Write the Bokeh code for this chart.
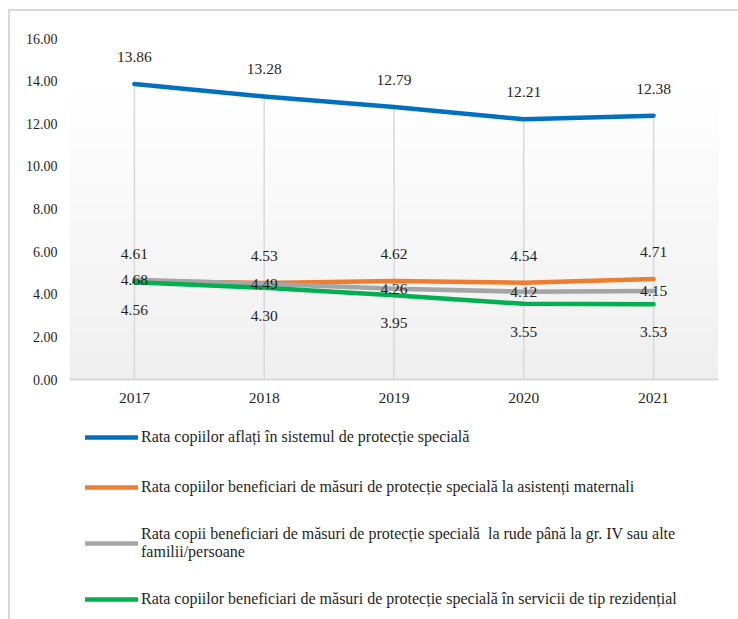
import numpy as np
from bokeh.plotting import figure
from bokeh.models import ColumnDataSource, FixedTicker, Legend, LegendItem, Range1d
from bokeh.core.properties import value
from bokeh.embed import file_html
from bokeh.resources import INLINE

years = ["2017", "2018", "2019", "2020", "2021"]
blue_vals = [13.86, 13.28, 12.79, 12.21, 12.38]
orange_vals = [4.61, 4.53, 4.62, 4.54, 4.71]
gray_vals = [4.68, 4.49, 4.26, 4.12, 4.15]
green_vals = [4.56, 4.30, 3.95, 3.55, 3.53]
series_names = [
    "Rata copiilor aflați în sistemul de protecție specială",
    "Rata copiilor beneficiari de măsuri de protecție specială la asistenți maternali",
    "Rata copii beneficiari de măsuri de protecție specială  la rude până la gr. IV sau alte\nfamilii/persoane",
    "Rata copiilor beneficiari de măsuri de protecție specială în servicii de tip rezidențial",
]
y_ticks = [0, 2, 4, 6, 8, 10, 12, 14, 16]

FONT = "Liberation Serif"
idx = list(range(len(years)))

Y_TOP = 16
PLOT_PX = 341          # pixels between 0 and 16
FRAME_H = 581          # frame extends below the axis to hold the legend
y_start = -(FRAME_H - PLOT_PX) / PLOT_PX * Y_TOP

p = figure(frame_width=649, frame_height=FRAME_H, output_backend="svg", toolbar_location=None,
           x_range=Range1d(-0.5, len(years) - 0.5), y_range=Range1d(y_start, Y_TOP),
           min_border_left=59, min_border_right=20, min_border_top=27, min_border_bottom=0)
p.styles = {"border-top": "2px solid #d9d9d9", "border-left": "2px solid #d9d9d9",
            "margin-left": "8px", "margin-top": "9px"}
p.outline_line_color = None
p.background_fill_color = "white"
p.border_fill_color = "white"
p.xgrid.visible = False
p.ygrid.visible = False

# gradient plot-area background
n = 100
grad = np.zeros((n, 1), dtype=np.uint32)
view = grad.view(dtype=np.uint8).reshape((n, 1, 4))
for i in range(n):
    t = i / (n - 1)  # 0 bottom, 1 top
    c = int(round(239 + (255 - 239) * min(1.0, t * 1.15)))
    view[i, 0] = [c, c, c, 255]
p.image_rgba(image=[grad], x=-0.5, y=0, dw=len(years), dh=Y_TOP, level="image")

# drop lines
p.segment(x0=idx, y0=[0] * len(idx), x1=idx,
          y1=[max(a, b, c, d) for a, b, c, d in zip(blue_vals, orange_vals, gray_vals, green_vals)],
          line_color="#d9d9d9", line_width=1.5)

colors = ["#0070c0", "#ed7d31", "#a5a5a5", "#00b050"]
all_vals = [blue_vals, orange_vals, gray_vals, green_vals]
offsets = [-27, -27, 0, 28]
renderers = []
for vals, col in zip(all_vals, colors):
    r = p.line(idx, vals, line_color=col, line_width=4.5, line_cap="round", line_join="round")
    renderers.append(r)
for vals, off in zip(all_vals, offsets):
    src = ColumnDataSource(dict(x=idx, y=vals, t=[f"{v:.2f}" for v in vals]))
    p.text(x="x", y="y", text="t", source=src, y_offset=off, text_align="center",
           text_baseline="middle", text_font=value(FONT), text_font_size="15.5px",
           text_color="#1f1f1f")

p.xaxis.fixed_location = 0
p.xaxis.ticker = FixedTicker(ticks=idx)
p.xaxis.major_label_overrides = {i: y for i, y in zip(idx, years)}
p.xaxis.axis_line_color = "#d9d9d9"
p.xaxis.axis_line_width = 2
p.xaxis.major_tick_line_color = None
p.xaxis.major_tick_out = 0
p.xaxis.major_tick_in = 0
p.xaxis.minor_tick_line_color = None
p.xaxis.major_label_standoff = 13
p.xaxis.major_label_text_font = FONT
p.xaxis.major_label_text_font_size = "15.5px"
p.xaxis.major_label_text_color = "#1f1f1f"

p.yaxis.ticker = FixedTicker(ticks=y_ticks)
p.yaxis.major_label_overrides = {t: f"{t:.2f}" for t in y_ticks}
p.yaxis.axis_line_color = None
p.yaxis.major_tick_line_color = None
p.yaxis.major_tick_out = 0
p.yaxis.major_tick_in = 0
p.yaxis.minor_tick_line_color = None
p.yaxis.major_label_standoff = 12
p.yaxis.major_label_text_font = FONT
p.yaxis.major_label_text_font_size = "14px"
p.yaxis.major_label_text_color = "#1f1f1f"

legend = Legend(items=[LegendItem(label=nm, renderers=[r]) for nm, r in zip(series_names, renderers)],
                orientation="vertical", location=(16, 8))
legend.glyph_width = 53
legend.glyph_height = 20
legend.label_height = 24
legend.label_standoff = 3
legend.spacing = 26
legend.padding = 0
legend.margin = 0
legend.border_line_color = None
legend.background_fill_alpha = 0
legend.label_text_font = FONT
legend.label_text_font_size = "16px"
legend.label_text_color = "#1f1f1f"
p.add_layout(legend, "center")

open("out.html", "w").write(file_html(p, INLINE))
